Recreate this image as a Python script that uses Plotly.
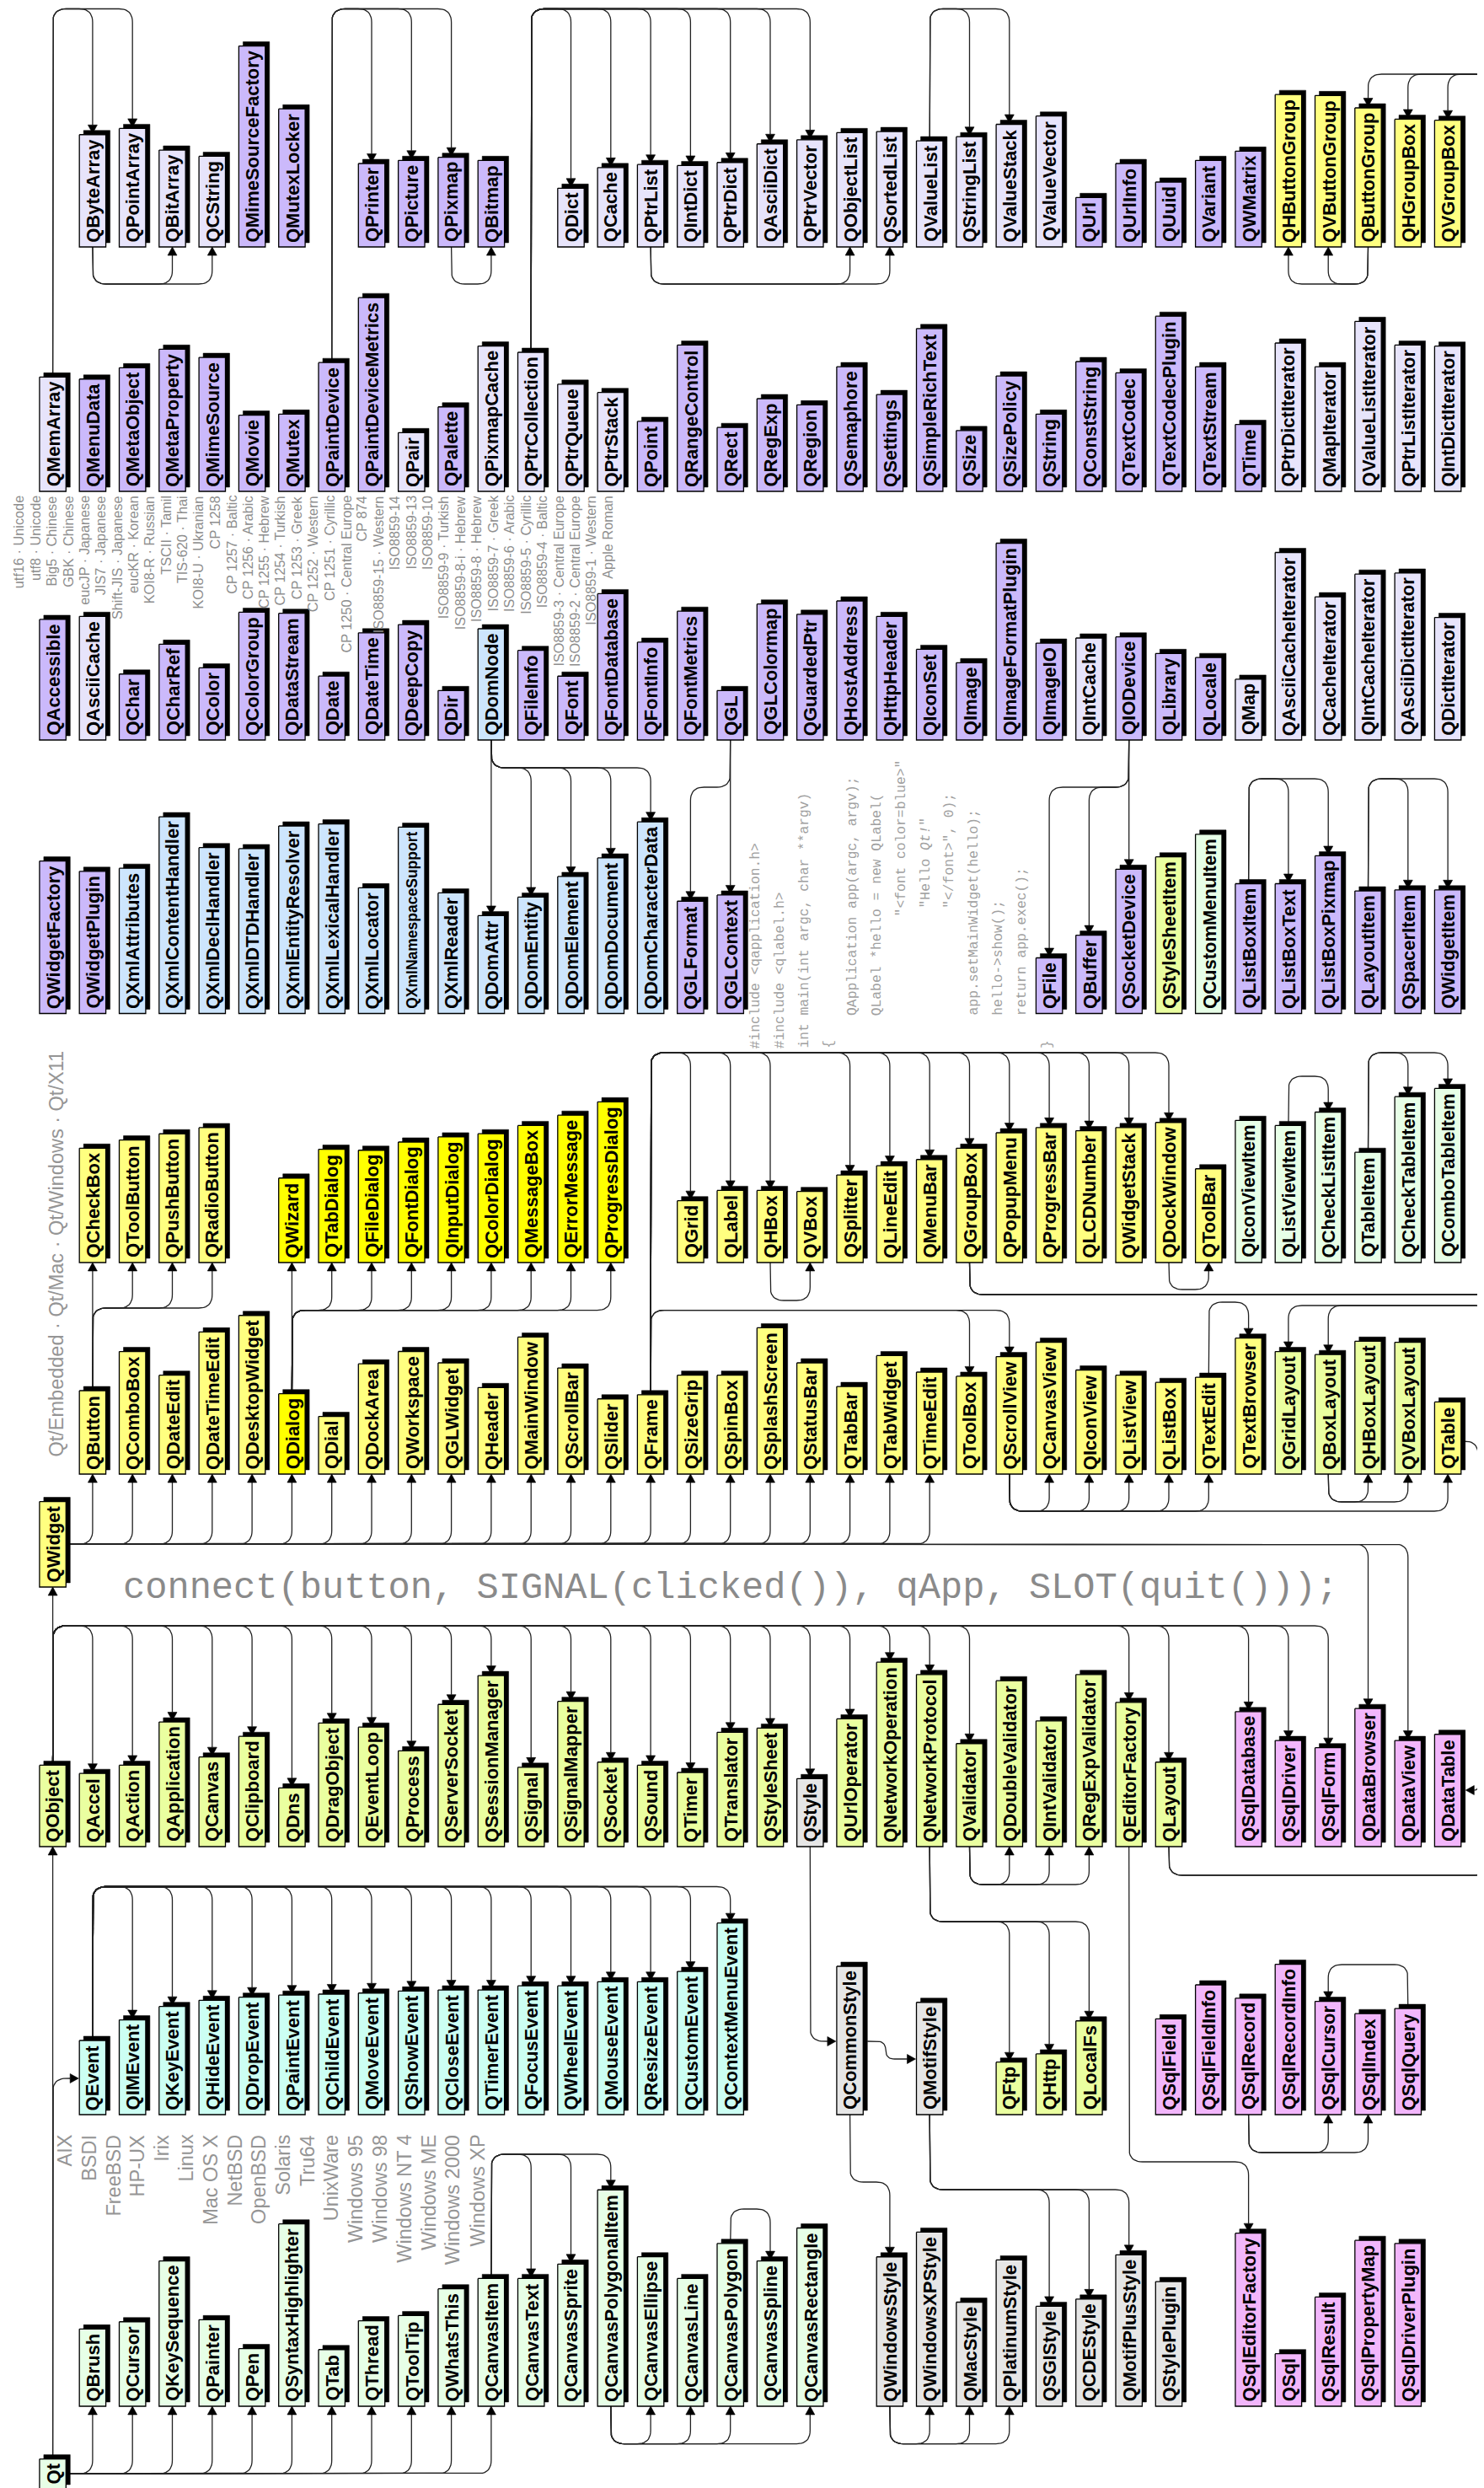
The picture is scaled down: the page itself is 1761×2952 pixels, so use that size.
import plotly.graph_objects as go

# ----------------------------------------------------------------------------- data
ROW_A_NAMES = ["QByteArray", "QPointArray", "QBitArray", "QCString", "QMimeSourceFactory", "QMutexLocker",
               "QPrinter", "QPicture", "QPixmap", "QBitmap",
               "QDict", "QCache", "QPtrList", "QIntDict", "QPtrDict", "QAsciiDict", "QPtrVector", "QObjectList",
               "QSortedList", "QValueList", "QStringList", "QValueStack", "QValueVector",
               "QUrl", "QUrlInfo", "QUuid", "QVariant", "QWMatrix",
               "QHButtonGroup", "QVButtonGroup", "QButtonGroup", "QHGroupBox", "QVGroupBox"]
ROW_A_COLS = [1, 2, 3, 4, 5, 6, 8, 9, 10, 11] + list(range(13, 36))
ROW_A_KINDS = ["L"] * 4 + ["P"] * 6 + ["L"] * 13 + ["P"] * 5 + ["Y"] * 5

ROW_B_NAMES = ["QMemArray", "QMenuData", "QMetaObject", "QMetaProperty", "QMimeSource", "QMovie", "QMutex",
               "QPaintDevice", "QPaintDeviceMetrics", "QPair", "QPalette", "QPixmapCache", "QPtrCollection",
               "QPtrQueue", "QPtrStack", "QPoint", "QRangeControl", "QRect", "QRegExp", "QRegion", "QSemaphore",
               "QSettings", "QSimpleRichText", "QSize", "QSizePolicy", "QString", "QConstString", "QTextCodec",
               "QTextCodecPlugin", "QTextStream", "QTime", "QPtrDictIterator", "QMapIterator",
               "QValueListIterator", "QPtrListIterator", "QIntDictIterator"]
ROW_B_COLS = list(range(0, 36))
ROW_B_KINDS = ["L"] + ["P"] * 8 + ["L", "P", "L", "L", "L", "L"] + ["P"] * 16 + ["L"] * 5

ROW_C_NAMES = ["QAccessible", "QAsciiCache", "QChar", "QCharRef", "QColor", "QColorGroup", "QDataStream", "QDate",
               "QDateTime", "QDeepCopy", "QDir", "QDomNode", "QFileInfo", "QFont", "QFontDatabase", "QFontInfo",
               "QFontMetrics", "QGL", "QGLColormap", "QGuardedPtr", "QHostAddress", "QHttpHeader", "QIconSet",
               "QImage", "QImageFormatPlugin", "QImageIO", "QIntCache", "QIODevice", "QLibrary", "QLocale", "QMap",
               "QAsciiCacheIterator", "QCacheIterator", "QIntCacheIterator", "QAsciiDictIterator", "QDictIterator"]
ROW_C_COLS = list(range(0, 36))
ROW_C_KINDS = ["P", "L"] + ["P"] * 9 + ["B"] + ["P"] * 14 + ["L", "P", "P", "P", "L"] + ["L"] * 5

ROW_D_NAMES = ["QWidgetFactory", "QWidgetPlugin", "QXmlAttributes", "QXmlContentHandler", "QXmlDeclHandler",
               "QXmlDTDHandler", "QXmlEntityResolver", "QXmlLexicalHandler", "QXmlLocator", "QXmlNamespaceSupport",
               "QXmlReader", "QDomAttr", "QDomEntity", "QDomElement", "QDomDocument", "QDomCharacterData",
               "QGLFormat", "QGLContext",
               "QFile", "QBuffer", "QSocketDevice", "QStyleSheetItem", "QCustomMenuItem", "QListBoxItem",
               "QListBoxText", "QListBoxPixmap", "QLayoutItem", "QSpacerItem", "QWidgetItem"]
ROW_D_COLS = list(range(0, 18)) + list(range(25, 36))
ROW_D_KINDS = ["P", "P"] + ["B"] * 14 + ["P", "P"] + ["P", "P", "P", "G", "M"] + ["P"] * 6

ROW_E_NAMES = ["QCheckBox", "QToolButton", "QPushButton", "QRadioButton",
               "QWizard", "QTabDialog", "QFileDialog", "QFontDialog", "QInputDialog", "QColorDialog",
               "QMessageBox", "QErrorMessage", "QProgressDialog",
               "QGrid", "QLabel", "QHBox", "QVBox", "QSplitter", "QLineEdit", "QMenuBar", "QGroupBox",
               "QPopupMenu", "QProgressBar", "QLCDNumber", "QWidgetStack", "QDockWindow", "QToolBar",
               "QIconViewItem", "QListViewItem", "QCheckListItem", "QTableItem", "QCheckTableItem",
               "QComboTableItem"]
ROW_E_COLS = [1, 2, 3, 4] + list(range(6, 15)) + list(range(16, 30)) + list(range(30, 36))
ROW_E_KINDS = ["Y"] * 4 + ["YB"] * 9 + ["Y"] * 14 + ["M"] * 6

ROW_F_NAMES = ["QButton", "QComboBox", "QDateEdit", "QDateTimeEdit", "QDesktopWidget", "QDialog", "QDial",
               "QDockArea", "QWorkspace", "QGLWidget", "QHeader", "QMainWindow", "QScrollBar", "QSlider",
               "QFrame", "QSizeGrip", "QSpinBox", "QSplashScreen", "QStatusBar", "QTabBar", "QTabWidget",
               "QTimeEdit", "QToolBox", "QScrollView", "QCanvasView", "QIconView", "QListView", "QListBox",
               "QTextEdit", "QTextBrowser", "QGridLayout", "QBoxLayout", "QHBoxLayout", "QVBoxLayout", "QTable"]
ROW_F_COLS = list(range(1, 36))
ROW_F_KINDS = ["Y"] * 5 + ["YB"] + ["Y"] * 24 + ["G"] * 4 + ["Y"]

ROW_G_NAMES = ["QObject", "QAccel", "QAction", "QApplication", "QCanvas", "QClipboard", "QDns", "QDragObject",
               "QEventLoop", "QProcess", "QServerSocket", "QSessionManager", "QSignal", "QSignalMapper",
               "QSocket", "QSound", "QTimer", "QTranslator", "QStyleSheet", "QStyle", "QUrlOperator",
               "QNetworkOperation", "QNetworkProtocol", "QValidator", "QDoubleValidator", "QIntValidator",
               "QRegExpValidator", "QEditorFactory", "QLayout",
               "QSqlDatabase", "QSqlDriver", "QSqlForm", "QDataBrowser", "QDataView", "QDataTable"]
ROW_G_COLS = list(range(0, 29)) + list(range(30, 36))
ROW_G_KINDS = ["G"] * 19 + ["Gr"] + ["G"] * 9 + ["K"] * 6

ROW_H_NAMES = ["QEvent", "QIMEvent", "QKeyEvent", "QHideEvent", "QDropEvent", "QPaintEvent", "QChildEvent",
               "QMoveEvent", "QShowEvent", "QCloseEvent", "QTimerEvent", "QFocusEvent", "QWheelEvent",
               "QMouseEvent", "QResizeEvent", "QCustomEvent", "QContextMenuEvent",
               "QCommonStyle", "QMotifStyle", "QFtp", "QHttp", "QLocalFs",
               "QSqlField", "QSqlFieldInfo", "QSqlRecord", "QSqlRecordInfo", "QSqlCursor", "QSqlIndex", "QSqlQuery"]
ROW_H_COLS = list(range(1, 18)) + [20, 22, 24, 25, 26] + list(range(28, 35))
ROW_H_KINDS = ["C"] * 17 + ["Gr", "Gr", "G", "G", "G"] + ["K"] * 7

ROW_I_NAMES = ["QBrush", "QCursor", "QKeySequence", "QPainter", "QPen", "QSyntaxHighlighter", "QTab", "QThread",
               "QToolTip", "QWhatsThis", "QCanvasItem", "QCanvasText", "QCanvasSprite", "QCanvasPolygonalItem",
               "QCanvasEllipse", "QCanvasLine", "QCanvasPolygon", "QCanvasSpline", "QCanvasRectangle",
               "QWindowsStyle", "QWindowsXPStyle", "QMacStyle", "QPlatinumStyle", "QSGIStyle", "QCDEStyle",
               "QMotifPlusStyle", "QStylePlugin",
               "QSqlEditorFactory", "QSql", "QSqlResult", "QSqlPropertyMap", "QSqlDriverPlugin"]
ROW_I_COLS = list(range(1, 20)) + list(range(21, 29)) + list(range(30, 35))
ROW_I_KINDS = ["M"] * 19 + ["Gr"] * 8 + ["K"] * 5

EXTRA_NAMES = ["QWidget", "Qt"]
EXTRA_COLS = [0, 0]
EXTRA_KINDS = ["Y", "M"]

ENCODINGS = ["utf16 · Unicode", "utf8 · Unicode", "Big5 · Chinese", "GBK · Chinese", "eucJP · Japanese",
             "JIS7 · Japanese", "Shift-JIS · Japanese", "eucKR · Korean", "KOI8-R · Russian", "TSCII · Tamil",
             "TIS-620 · Thai", "KOI8-U · Ukranian", "CP 1258", "CP 1257 · Baltic", "CP 1256 · Arabic",
             "CP 1255 · Hebrew", "CP 1254 · Turkish", "CP 1253 · Greek", "CP 1252 · Western",
             "CP 1251 · Cyrillic", "CP 1250 · Central Europe", "CP 874", "ISO8859-15 · Western", "ISO8859-14",
             "ISO8859-13", "ISO8859-10", "ISO8859-9 · Turkish", "ISO8859-8-i · Hebrew", "ISO8859-8 · Hebrew",
             "ISO8859-7 · Greek", "ISO8859-6 · Arabic", "ISO8859-5 · Cyrillic", "ISO8859-4 · Baltic",
             "ISO8859-3 · Central Europe", "ISO8859-2 · Central Europe", "ISO8859-1 · Western", "Apple Roman"]
PLATFORMS = ["AIX", "BSDI", "FreeBSD", "HP-UX", "Irix", "Linux", "Mac OS X", "NetBSD", "OpenBSD", "Solaris",
             "Tru64", "UnixWare", "Windows 95", "Windows 98", "Windows NT 4", "Windows ME", "Windows 2000",
             "Windows XP"]
EDITIONS = "Qt/Embedded · Qt/Mac · Qt/Windows · Qt/X11"
CODE_LINES = ["#include <qapplication.h>", "#include <qlabel.h>", "int main(int argc, char **argv)", "{",
              "QApplication app(argc, argv);", "QLabel *hello = new QLabel(", "\"<font color=blue>\"",
              "\"Hello <i>Qt!</i>\"", "\"</font>\", 0);", "app.setMainWidget(hello);", "hello->show();",
              "return app.exec();", "}"]
CODE_INDENT = [0, 0, 0, 0, 4, 4, 16, 17, 17, 4, 4, 4, 0]
SIGNAL_TEXT = "connect(button, SIGNAL(clicked()), qApp, SLOT(quit()));"

# inheritance links: parent, side of parent, children, side of children, bus key
LINKS = [
    ("QMemArray", "top", ["QByteArray", "QPointArray"], "top", "A_top"),
    ("QByteArray", "bottom", ["QBitArray", "QCString"], "bottom", "A_under"),
    ("QPaintDevice", "top", ["QPrinter", "QPicture", "QPixmap"], "top", "A_top"),
    ("QPixmap", "bottom", ["QBitmap"], "bottom", "A_under"),
    ("QPtrCollection", "top", ["QDict", "QCache", "QPtrList", "QIntDict", "QPtrDict", "QAsciiDict", "QPtrVector"],
     "top", "A_top"),
    ("QPtrList", "bottom", ["QObjectList", "QSortedList"], "bottom", "A_under"),
    ("QValueList", "top", ["QStringList", "QValueStack"], "top", "A_top"),
    ("QButtonGroup", "bottom", ["QHButtonGroup", "QVButtonGroup"], "bottom", "A_under"),
    ("QDomNode", "bottom", ["QDomAttr", "QDomEntity", "QDomElement", "QDomDocument", "QDomCharacterData"],
     "top", "C_dom"),
    ("QGL", "bottom", ["QGLFormat", "QGLContext"], "top", "C_gl"),
    ("QIODevice", "bottom", ["QFile", "QBuffer", "QSocketDevice"], "top", "C_gl"),
    ("QListBoxItem", "top", ["QListBoxText", "QListBoxPixmap"], "top", "D_top"),
    ("QLayoutItem", "top", ["QSpacerItem", "QWidgetItem"], "top", "D_top"),
    ("QFrame", "top", ["QGrid", "QLabel", "QHBox", "QSplitter", "QLineEdit", "QMenuBar", "QGroupBox",
                       "QPopupMenu", "QProgressBar", "QLCDNumber", "QWidgetStack", "QDockWindow"], "top", "E_top"),
    ("QHBox", "bottom", ["QVBox"], "bottom", "E_hbox"),
    ("QDockWindow", "bottom", ["QToolBar"], "bottom", "E_dock"),
    ("QListViewItem", "top", ["QCheckListItem"], "top", "E_lvi"),
    ("QTableItem", "top", ["QCheckTableItem", "QComboTableItem"], "top", "E_top"),
    ("QButton", "top", ["QCheckBox", "QToolButton", "QPushButton", "QRadioButton"], "bottom", "F_btn"),
    ("QDialog", "top", ["QWizard", "QTabDialog", "QFileDialog", "QFontDialog", "QInputDialog", "QColorDialog",
                        "QMessageBox", "QErrorMessage", "QProgressDialog"], "bottom", "F_dlg"),
    ("QFrame", "top", ["QToolBox", "QScrollView"], "top", "F_dlg"),
    ("QTextEdit", "top", ["QTextBrowser"], "top", "F_text"),
    ("QScrollView", "bottom", ["QCanvasView", "QIconView", "QListView", "QListBox", "QTextEdit", "QTable"],
     "bottom", "F_scroll"),
    ("QBoxLayout", "bottom", ["QHBoxLayout", "QVBoxLayout"], "bottom", "F_box"),
    ("QObject", "top", ["QAccel", "QAction", "QApplication", "QCanvas", "QClipboard", "QDns", "QDragObject",
                        "QEventLoop", "QProcess", "QServerSocket", "QSessionManager", "QSignal", "QSignalMapper",
                        "QSocket", "QSound", "QTimer", "QTranslator", "QStyleSheet", "QStyle", "QUrlOperator",
                        "QNetworkOperation", "QNetworkProtocol", "QValidator", "QEditorFactory", "QLayout",
                        "QSqlDatabase", "QSqlDriver", "QSqlForm"], "top", "O_bus"),
    ("QValidator", "bottom", ["QDoubleValidator", "QIntValidator", "QRegExpValidator"], "bottom", "G_valid"),
    ("QNetworkProtocol", "bottom", ["QFtp", "QHttp", "QLocalFs"], "top", "G_net"),
    ("QEditorFactory", "bottom", ["QSqlEditorFactory"], "top", "G_editor"),
    ("QEvent", "top", ["QIMEvent", "QKeyEvent", "QHideEvent", "QDropEvent", "QPaintEvent", "QChildEvent",
                       "QMoveEvent", "QShowEvent", "QCloseEvent", "QTimerEvent", "QFocusEvent", "QWheelEvent",
                       "QMouseEvent", "QResizeEvent", "QCustomEvent", "QContextMenuEvent"], "top", "H_event"),
    ("QCommonStyle", "bottom", ["QWindowsStyle"], "top", "H_cs"),
    ("QMotifStyle", "bottom", ["QSGIStyle", "QCDEStyle", "QMotifPlusStyle"], "top", "H_motif"),
    ("QSqlRecord", "bottom", ["QSqlCursor", "QSqlIndex"], "bottom", "H_sqlrec"),
    ("QSqlQuery", "top", ["QSqlCursor"], "top", "H_sqlq"),
    ("QCanvasItem", "top", ["QCanvasText", "QCanvasSprite", "QCanvasPolygonalItem"], "top", "I_canvas"),
    ("QCanvasPolygonalItem", "bottom", ["QCanvasEllipse", "QCanvasLine", "QCanvasPolygon", "QCanvasRectangle"],
     "bottom", "I_under"),
    ("QCanvasPolygon", "top", ["QCanvasSpline"], "top", "I_poly"),
    ("QWindowsStyle", "bottom", ["QWindowsXPStyle", "QMacStyle", "QPlatinumStyle"], "bottom", "I_under"),
]
WIDGET_KIDS_BELOW = ROW_F_NAMES[:22]
WIDGET_KIDS_ABOVE = ["QDataBrowser", "QDataView"]
QT_KIDS = ROW_I_NAMES[:11]
GROUPBOX_KIDS = ["QButtonGroup", "QHGroupBox", "QVGroupBox"]
LAYOUT_KIDS = ["QGridLayout", "QBoxLayout"]

# ----------------------------------------------------------------------------- layout / style
W, H = 1761, 2952
COL_X0, COL_PITCH, BOX_W = 38.9, 47.3, 31.4
ROW_BOTTOM = {"A": 285, "B": 575, "C": 870, "D": 1194.5, "E": 1490, "F": 1741,
              "G": 2183, "H": 2501, "I": 2847}
EXTRA_BOTTOM = {"QWidget": 1875, "Qt": 2945}
LABEL_SIZE = 22
FONT_OVERRIDE = {"QXmlNamespaceSupport": 17.5}
PAD = 11
SDX, SDY = 5, -5
EDGE_X = W - 2.5
BUS = {"A_top": 2.5, "A_under": 329, "C_dom": 903, "C_gl": 926, "D_top": 916, "E_top": 1241,
       "E_hbox": 1535, "E_dock": 1522, "E_lvi": 1269, "F_btn": 1544, "F_dlg": 1546.6, "F_text": 1537,
       "F_scroll": 1785, "F_box": 1774, "W_bus": 1824, "O_bus": 1921, "G_valid": 2228, "G_net": 2272,
       "G_layout": 2217, "G_editor": 2557, "H_event": 2230.5, "H_cs": 2581, "H_motif": 2590,
       "H_sqlrec": 2546, "H_sqlq": 2323, "I_canvas": 2548, "I_poly": 2613, "I_under": 2891.6,
       "Qt_bus": 2927, "gbox_under": 1528, "gbox_top": 80, "layout_top": 1541, "qevent_in": 2458,
       "style_in": 2414, "motif_in": 2435, "table_out": 1702, "datatable_in": 2116, "motif_bend": 1043,
       "table_x": 1746}
COLORS = {"P": "#cbb9fb", "L": "#e7e4fb", "B": "#cde5fd", "Y": "#ffff80", "YB": "#ffff00",
          "G": "#eaffa0", "C": "#ccfff3", "M": "#e7ffe7", "Gr": "#e6e6e6", "K": "#f2b6fb"}
LINE_COLOR = "#222222"
ARROW_L, ARROW_W = 10, 5.5
SANS = "Liberation Sans, Arial, Helvetica, sans-serif"
MONO = "Liberation Mono, Courier New, monospace"

# Helvetica-Bold advance widths (1/1000 em)
HB = dict(zip("ABCDEFGHIJKLMNOPQRSTUVWXYZ",
              [722, 722, 722, 722, 667, 611, 778, 722, 278, 556, 722, 611, 833, 722, 778, 667, 778, 722, 667,
               611, 722, 667, 944, 667, 667, 611]))
HB.update(dict(zip("abcdefghijklmnopqrstuvwxyz",
                   [556, 611, 556, 611, 556, 333, 611, 611, 278, 278, 556, 278, 889, 611, 611, 611, 611, 389,
                    556, 333, 611, 556, 778, 556, 556, 500])))


def text_w(s):
    return sum(HB.get(ch, 556) for ch in s)


BOX = {}


def add_row(names, cols, kinds, bottoms):
    for i, (n, c, k) in enumerate(zip(names, cols, kinds)):
        fs = FONT_OVERRIDE.get(n, LABEL_SIZE)
        h = text_w(n) * fs / 1000 + PAD
        l = COL_X0 + COL_PITCH * c
        b = bottoms[i]
        BOX[n] = dict(l=l, r=l + BOX_W, t=b - h, b=b, xc=l + BOX_W / 2, kind=k, fs=fs)


for names, cols, kinds, key in [(ROW_A_NAMES, ROW_A_COLS, ROW_A_KINDS, "A"),
                                (ROW_B_NAMES, ROW_B_COLS, ROW_B_KINDS, "B"),
                                (ROW_C_NAMES, ROW_C_COLS, ROW_C_KINDS, "C"),
                                (ROW_D_NAMES, ROW_D_COLS, ROW_D_KINDS, "D"),
                                (ROW_E_NAMES, ROW_E_COLS, ROW_E_KINDS, "E"),
                                (ROW_F_NAMES, ROW_F_COLS, ROW_F_KINDS, "F"),
                                (ROW_G_NAMES, ROW_G_COLS, ROW_G_KINDS, "G"),
                                (ROW_H_NAMES, ROW_H_COLS, ROW_H_KINDS, "H"),
                                (ROW_I_NAMES, ROW_I_COLS, ROW_I_KINDS, "I")]:
    add_row(names, cols, kinds, [ROW_BOTTOM[key]] * len(names))
add_row(EXTRA_NAMES, EXTRA_COLS, EXTRA_KINDS, [EXTRA_BOTTOM[n] for n in EXTRA_NAMES])


def top_pt(n, child=False):
    return (BOX[n]["xc"], BOX[n]["t"] - (1.5 if child else 0))


def bot_pt(n):
    return (BOX[n]["xc"], BOX[n]["b"])


routes = []
for parent, pside, kids, cside, key in LINKS:
    pa = top_pt(parent) if pside == "top" else bot_pt(parent)
    lvl = BUS[key]
    for k in kids:
        ca = top_pt(k, True) if cside == "top" else bot_pt(k)
        if abs(ca[0] - pa[0]) < 0.5:
            routes.append([pa, ca])
        else:
            routes.append([pa, (pa[0], lvl), (ca[0], lvl), ca])

# special routes
g = BOX["QGroupBox"]
for k in GROUPBOX_KIDS:
    routes.append([bot_pt("QGroupBox"), (g["xc"], BUS["gbox_under"]), (EDGE_X, BUS["gbox_under"]),
                   (EDGE_X, BUS["gbox_top"]), (BOX[k]["xc"], BUS["gbox_top"]), top_pt(k, True)])
lay = BOX["QLayout"]
for k in LAYOUT_KIDS:
    routes.append([bot_pt("QLayout"), (lay["xc"], BUS["G_layout"]), (EDGE_X, BUS["G_layout"]),
                   (EDGE_X, BUS["layout_top"]), (BOX[k]["xc"], BUS["layout_top"]), top_pt(k, True)])
wx = BOX["QWidget"]["r"] + SDX
for k in WIDGET_KIDS_BELOW:
    routes.append([(wx, BUS["W_bus"]), (BOX[k]["xc"], BUS["W_bus"]), bot_pt(k)])
for k in WIDGET_KIDS_ABOVE:
    routes.append([(wx, BUS["W_bus"]), (BOX[k]["xc"], BUS["W_bus"]), top_pt(k, True)])
qx = BOX["Qt"]["r"] + SDX
for k in QT_KIDS:
    routes.append([(qx, BUS["Qt_bus"]), (BOX[k]["xc"], BUS["Qt_bus"]), bot_pt(k)])
routes.append([top_pt("Qt"), bot_pt("QObject")])
routes.append([top_pt("QObject"), bot_pt("QWidget")])
routes.append([top_pt("Qt"), (BOX["Qt"]["xc"], BUS["qevent_in"]), (BOX["QEvent"]["l"] - 1, BUS["qevent_in"])])
routes.append([bot_pt("QStyle"), (BOX["QStyle"]["xc"], BUS["style_in"]),
               (BOX["QCommonStyle"]["l"] - 1, BUS["style_in"])])
routes.append([(BOX["QCommonStyle"]["r"] + SDX, BUS["style_in"]), (BUS["motif_bend"], BUS["style_in"]),
               (BUS["motif_bend"], BUS["motif_in"]), (BOX["QMotifStyle"]["l"] - 1, BUS["motif_in"])])
routes.append([(BOX["QTable"]["r"], BUS["table_out"]), (BUS["table_x"], BUS["table_out"]),
               (BUS["table_x"], BUS["datatable_in"]), (BOX["QDataTable"]["r"] + SDX + 0.5, BUS["datatable_in"])])


def smooth(pts, r=16, n=10):
    segs = [((pts[i + 1][0] - pts[i][0]) ** 2 + (pts[i + 1][1] - pts[i][1]) ** 2) ** 0.5
            for i in range(len(pts) - 1)]
    out = [pts[0]]
    for i in range(1, len(pts) - 1):
        A, P, B = pts[i - 1], pts[i], pts[i + 1]
        la, lb = segs[i - 1], segs[i]
        if la < 1e-6 or lb < 1e-6:
            continue
        ua = ((A[0] - P[0]) / la, (A[1] - P[1]) / la)
        ub = ((B[0] - P[0]) / lb, (B[1] - P[1]) / lb)
        if abs(ua[0] * ub[1] - ua[1] * ub[0]) < 1e-9:
            out.append(P)
            continue
        ra = la if i - 1 == 0 else la / 2
        rb = lb if i == len(segs) - 1 else lb / 2
        rr = min(r, ra, rb)
        p1 = (P[0] + ua[0] * rr, P[1] + ua[1] * rr)
        p2 = (P[0] + ub[0] * rr, P[1] + ub[1] * rr)
        for j in range(n + 1):
            t = j / n
            out.append(((1 - t) ** 2 * p1[0] + 2 * (1 - t) * t * P[0] + t * t * p2[0],
                        (1 - t) ** 2 * p1[1] + 2 * (1 - t) * t * P[1] + t * t * p2[1]))
    out.append(pts[-1])
    return out


lx, ly, ax, ay = [], [], [], []
for pts in routes:
    tip = pts[-1]
    prev = pts[-2]
    d = ((tip[0] - prev[0]), (tip[1] - prev[1]))
    dl = (d[0] ** 2 + d[1] ** 2) ** 0.5
    d = (d[0] / dl, d[1] / dl)
    base = (tip[0] - d[0] * ARROW_L, tip[1] - d[1] * ARROW_L)
    body = smooth(pts[:-1] + [base])
    lx += [p[0] for p in body] + [None]
    ly += [p[1] for p in body] + [None]
    px, py = -d[1], d[0]
    ax += [tip[0], base[0] + px * ARROW_W, base[0] - px * ARROW_W, tip[0], None]
    ay += [tip[1], base[1] + py * ARROW_W, base[1] - py * ARROW_W, tip[1], None]

fig = go.Figure()
fig.add_trace(go.Scatter(x=lx, y=ly, mode="lines", line=dict(color=LINE_COLOR, width=1.3),
                         hoverinfo="skip", showlegend=False))

sx, sy = [], []
for n, b in BOX.items():
    sx += [b["l"] + SDX, b["r"] + SDX, b["r"] + SDX, b["l"] + SDX, b["l"] + SDX, None]
    sy += [b["t"] + SDY, b["t"] + SDY, b["b"] + SDY, b["b"] + SDY, b["t"] + SDY, None]
fig.add_trace(go.Scatter(x=sx, y=sy, mode="lines", fill="toself", fillcolor="black",
                         line=dict(color="black", width=0.5), hoverinfo="skip", showlegend=False))

for kind, col in COLORS.items():
    bx, by = [], []
    for n, b in BOX.items():
        if b["kind"] != kind:
            continue
        bx += [b["l"], b["r"], b["r"], b["l"], b["l"], None]
        by += [b["t"], b["t"], b["b"], b["b"], b["t"], None]
    if bx:
        fig.add_trace(go.Scatter(x=bx, y=by, mode="lines", fill="toself", fillcolor=col,
                                 line=dict(color="black", width=1.3), hoverinfo="skip", showlegend=False))

fig.add_trace(go.Scatter(x=ax, y=ay, mode="lines", fill="toself", fillcolor="black",
                         line=dict(color="black", width=0.6), hoverinfo="skip", showlegend=False))

ann = []
for n, b in BOX.items():
    ann.append(dict(x=b["xc"] + 0.5, y=(b["t"] + b["b"]) / 2, xref="x", yref="y", text=n, textangle=-90,
                    showarrow=False, xanchor="center", yanchor="middle", borderpad=0,
                    font=dict(family=SANS, size=b["fs"], color="black", weight="bold")))

for i, s in enumerate(ENCODINGS):
    ann.append(dict(x=14.2 + 19.39 * i, y=579, xref="x", yref="y", text=s, textangle=-90, showarrow=False,
                    xanchor="center", yanchor="top", borderpad=0,
                    font=dict(family=SANS, size=16.3, color="#8e8e8e")))
for i, s in enumerate(PLATFORMS):
    ann.append(dict(x=68.5 + 28.8 * i, y=2524, xref="x", yref="y", text=s, textangle=-90, showarrow=False,
                    xanchor="center", yanchor="top", borderpad=0,
                    font=dict(family=SANS, size=23.5, color="#959595")))
ann.append(dict(x=58, y=1239, xref="x", yref="y", text=EDITIONS, textangle=-90, showarrow=False,
                xanchor="center", yanchor="top", borderpad=0, font=dict(family=SANS, size=23.5, color="#959595")))
CODE_CHAR = 9.8
for i, (s, ind) in enumerate(zip(CODE_LINES, CODE_INDENT)):
    ann.append(dict(x=888.4 + 28.8 * i, y=1237 - ind * CODE_CHAR, xref="x", yref="y", text=s, textangle=-90,
                    showarrow=False, xanchor="center", yanchor="bottom", borderpad=0,
                    font=dict(family=MONO, size=16.3, color="#a0a0a0")))
ann.append(dict(x=137, y=1876, xref="x", yref="y", text=SIGNAL_TEXT, showarrow=False, xanchor="left",
                yanchor="middle", borderpad=0, font=dict(family=MONO, size=43.7, color="#8a8a8a")))

fig.update_layout(width=W, height=H, margin=dict(l=0, r=0, t=0, b=0), paper_bgcolor="white",
                  plot_bgcolor="white", annotations=ann, showlegend=False,
                  xaxis=dict(range=[0, W], visible=False, fixedrange=True),
                  yaxis=dict(range=[H, 0], visible=False, fixedrange=True))
fig.write_html("out.html")
